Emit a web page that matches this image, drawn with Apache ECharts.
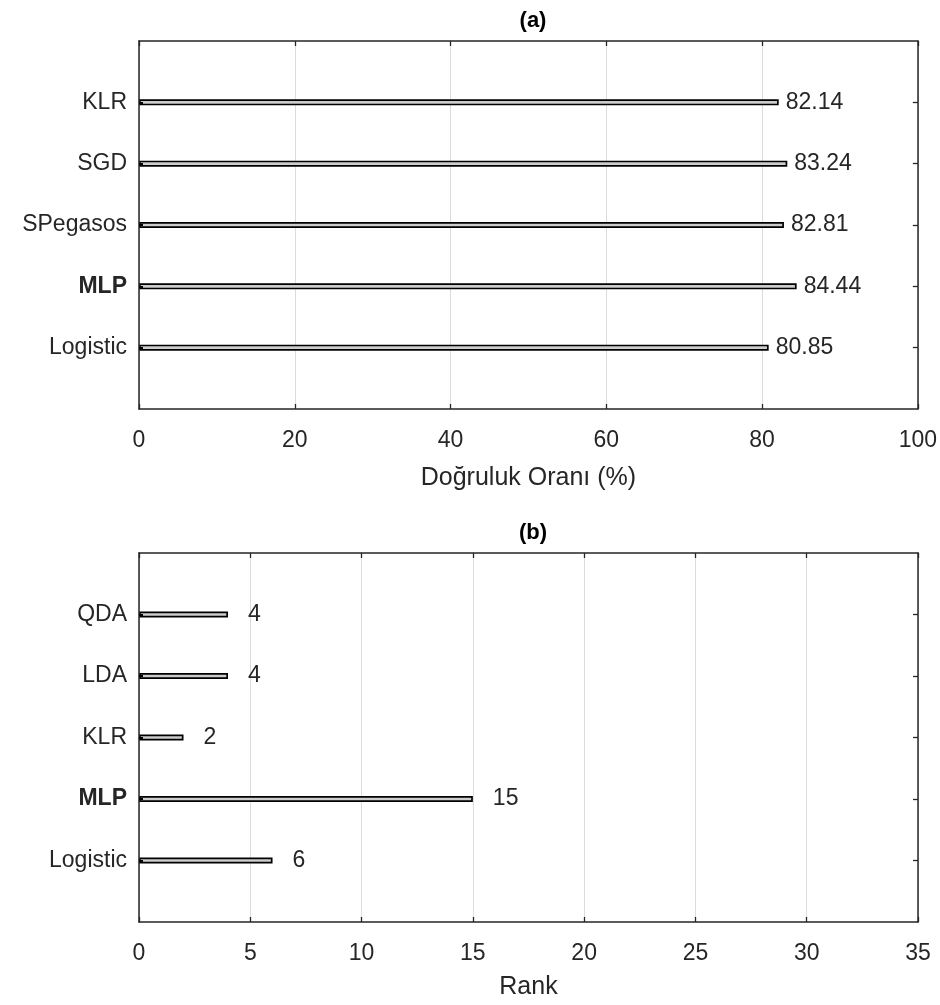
<!DOCTYPE html>
<html>
<head>
<meta charset="utf-8">
<script src="https://cdn.jsdelivr.net/npm/echarts@6/dist/echarts.min.js"></script>
<style>html,body{margin:0;padding:0;background:#fff}#c{width:940px;height:1005px}</style>
</head>
<body>
<div id="c"></div>
<script>
// ---- data ----
var categoriesA = ['Logistic', 'MLP', 'SPegasos', 'SGD', 'KLR'];
var valuesA = [80.85, 84.44, 82.81, 83.24, 82.14];
var categoriesB = ['Logistic', 'MLP', 'KLR', 'LDA', 'QDA'];
var valuesB = [6, 15, 2, 4, 4];
var boldCategory = 'MLP';
var titleA = '(a)';
var titleB = '(b)';
var xNameA = 'Doğruluk Oranı (%)';
var xNameB = 'Rank';
var xTicksA = [0, 20, 40, 60, 80, 100];
var xTicksB = [0, 5, 10, 15, 20, 25, 30, 35];

// ---- styles ----
var FONT = 'Liberation Sans';
var TXT = '#262626';
var AX = '#262626';
var FS = 23;

function pad(arr, fill) { return [fill].concat(arr, [fill]); }
function tickInterval(i) { return i > 0 && i < 6; }

function xAxes(gi, ticks, name, nameGap) {
  var min = ticks[0], max = ticks[ticks.length - 1], step = ticks[1] - ticks[0];
  return [{
    type: 'value', gridIndex: gi, position: 'bottom', min: min, max: max, interval: step,
    name: name, nameLocation: 'middle', nameGap: nameGap,
    nameTextStyle: { fontFamily: FONT, fontSize: 25, color: TXT },
    axisLine: { show: true, onZero: false, lineStyle: { color: AX, width: 1.5 } },
    axisTick: { show: true, inside: true, length: 5, lineStyle: { color: AX, width: 1.3 } },
    axisLabel: { margin: 20, fontFamily: FONT, fontSize: FS, color: TXT },
    splitLine: { show: true, lineStyle: { color: '#dcdcdc', width: 1 } }
  }, {
    type: 'value', gridIndex: gi, position: 'top', min: min, max: max, interval: step,
    axisLine: { show: true, onZero: false, lineStyle: { color: AX, width: 1.5 } },
    axisTick: { show: true, inside: true, length: 5, lineStyle: { color: AX, width: 1.3 } },
    axisLabel: { show: false }, splitLine: { show: false }
  }];
}

function yAxes(gi, cats) {
  var data = pad(cats, '');
  return [{
    type: 'category', gridIndex: gi, position: 'left', data: data, boundaryGap: false, z: 3,
    axisLine: { show: true, onZero: false, lineStyle: { color: AX, width: 1.5 } },
    axisTick: { show: true, inside: true, length: 4, interval: tickInterval, lineStyle: { color: '#000', width: 2 } },
    axisLabel: {
      margin: 12, interval: 0, fontFamily: FONT, fontSize: FS, color: TXT,
      formatter: function (v) { return v === boldCategory ? '{b|' + v + '}' : v; },
      rich: { b: { fontFamily: FONT, fontSize: FS, fontWeight: 'bold', color: TXT } }
    },
    splitLine: { show: false }
  }, {
    type: 'category', gridIndex: gi, position: 'right', data: data, boundaryGap: false, z: 3,
    axisLine: { show: true, onZero: false, lineStyle: { color: AX, width: 1.5 } },
    axisTick: { show: true, inside: true, length: 5, interval: tickInterval, lineStyle: { color: AX, width: 1.3 } },
    axisLabel: { show: false }, splitLine: { show: false }
  }];
}

function barSeries(xi, yi, vals, dist, fmt) {
  return {
    type: 'bar', xAxisIndex: xi, yAxisIndex: yi, data: pad(vals, '-'),
    barWidth: 6, silent: true, animation: false,
    itemStyle: { color: '#cccccc', borderColor: '#000000', borderWidth: 1.7 },
    label: {
      show: true, position: 'right', distance: dist, fontFamily: FONT, fontSize: FS, color: TXT,
      formatter: function (p) { return fmt(p.value); }
    }
  };
}

var chart = echarts.init(document.getElementById('c'), null, { renderer: 'canvas' });
chart.setOption({
  backgroundColor: '#ffffff',
  animation: false,
  title: [
    { text: titleA, left: 528, top: 5, textAlign: 'center', textStyle: { fontFamily: FONT, fontSize: 22, fontWeight: 'bold', color: '#000' } },
    { text: titleB, left: 528, top: 517, textAlign: 'center', textStyle: { fontFamily: FONT, fontSize: 22, fontWeight: 'bold', color: '#000' } }
  ],
  grid: [
    { left: 139, top: 41, width: 779, height: 368 },
    { left: 139, top: 553, width: 779, height: 369 }
  ],
  xAxis: xAxes(0, xTicksA, xNameA, 57).concat(xAxes(1, xTicksB, xNameB, 53)),
  yAxis: yAxes(0, categoriesA).concat(yAxes(1, categoriesB)),
  series: [
    barSeries(0, 0, valuesA, 7, function (v) { return v.toFixed(2); }),
    barSeries(2, 2, valuesB, 20, function (v) { return String(v); })
  ]
});
</script>
</body>
</html>
